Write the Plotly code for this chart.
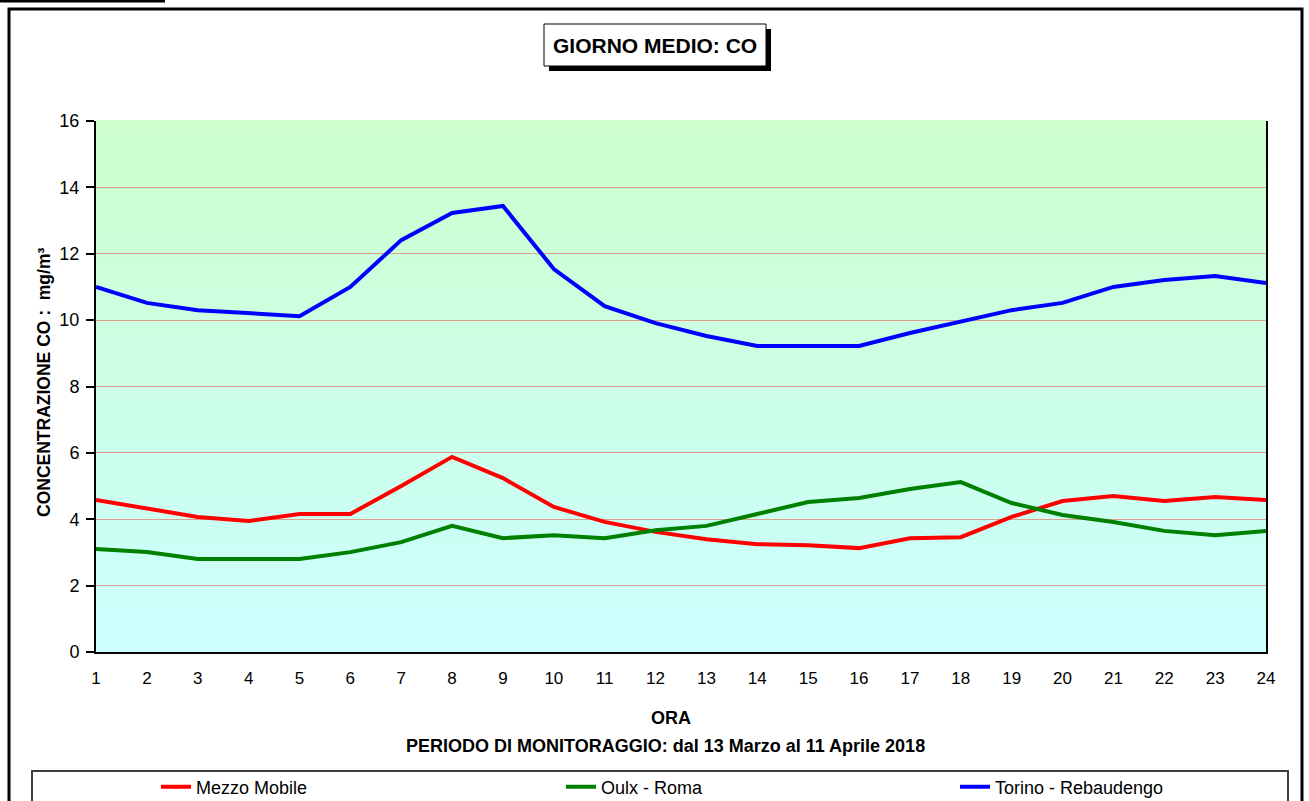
import plotly.graph_objects as go

hours = list(range(1, 25))
mezzo_mobile = [4.58, 4.31, 4.07, 3.95, 4.16, 4.16, 5.00, 5.88, 5.24, 4.37, 3.92, 3.62,
                3.40, 3.25, 3.22, 3.13, 3.43, 3.46, 4.07, 4.55, 4.70, 4.55, 4.67, 4.58]
oulx_roma = [3.10, 3.01, 2.80, 2.80, 2.80, 3.01, 3.31, 3.80, 3.43, 3.52, 3.43, 3.67,
             3.80, 4.16, 4.52, 4.64, 4.91, 5.12, 4.49, 4.13, 3.92, 3.65, 3.52, 3.65]
torino_rebaudengo = [11.00, 10.52, 10.30, 10.20, 10.12, 11.00, 12.41, 13.23, 13.44, 11.54, 10.42, 9.91,
                     9.52, 9.22, 9.22, 9.22, 9.61, 9.94, 10.30, 10.52, 11.00, 11.21, 11.33, 11.12]
series_names = ["Mezzo Mobile", "Oulx - Roma", "Torino - Rebaudengo"]
series_colors = ["#FF0000", "#008000", "#0000FF"]
y_ticks = [0, 2, 4, 6, 8, 10, 12, 14, 16]

W, H = 1309, 801
L, R, T, B = 96, 1266, 121, 652
FONT = "Liberation Sans, Arial"


def px(x):
    return (x - L) / (R - L)


def py(y):
    return (B - y) / (B - T)


fig = go.Figure()
legend_ids = ["legend", "legend2", "legend3"]
for name, vals, col, lg in zip(series_names, [mezzo_mobile, oulx_roma, torino_rebaudengo],
                               series_colors, legend_ids):
    fig.add_trace(go.Scatter(x=hours, y=vals, mode="lines", name=name, legend=lg,
                             line=dict(color=col, width=4)))

shapes = []
# gradient background of the plot area
n = 60
c_top = (204, 255, 204)
c_bot = (204, 255, 255)
for i in range(n):
    f = (i + 0.5) / n
    r = round(c_bot[0] + (c_top[0] - c_bot[0]) * f)
    g = round(c_bot[1] + (c_top[1] - c_bot[1]) * f)
    b = round(c_bot[2] + (c_top[2] - c_bot[2]) * f)
    shapes.append(dict(type="rect", xref="x domain", yref="y domain",
                       x0=0, x1=1, y0=i / n, y1=(i + 1) / n + 0.002,
                       fillcolor=f"rgb({r},{g},{b})", line=dict(width=0), layer="below"))

# outer frame
shapes.append(dict(type="rect", xref="paper", yref="paper",
                   x0=px(9), x1=px(1302), y0=py(830), y1=py(9),
                   line=dict(color="black", width=3), fillcolor="rgba(0,0,0,0)"))
# top cut underline
shapes.append(dict(type="line", xref="paper", yref="paper",
                   x0=px(0), x1=px(165), y0=py(1), y1=py(1),
                   line=dict(color="black", width=3)))
# title box shadow + box
shapes.append(dict(type="rect", xref="paper", yref="paper",
                   x0=px(549), x1=px(771), y0=py(71), y1=py(29),
                   fillcolor="black", line=dict(width=0)))
shapes.append(dict(type="rect", xref="paper", yref="paper",
                   x0=px(544), x1=px(766), y0=py(66), y1=py(24),
                   fillcolor="white", line=dict(color="black", width=1)))
# legend box
shapes.append(dict(type="rect", xref="paper", yref="paper",
                   x0=px(32), x1=px(1288), y0=py(830), y1=py(771),
                   fillcolor="white", line=dict(color="#404040", width=2)))

annotations = [
    dict(text="<b>GIORNO MEDIO: CO</b>", xref="paper", yref="paper",
         x=px(655), y=py(45), showarrow=False, xanchor="center", yanchor="middle",
         font=dict(size=21, color="black", family=FONT)),
    dict(text="<b>ORA</b>", xref="paper", yref="paper",
         x=px(671), y=py(718), showarrow=False, xanchor="center", yanchor="middle",
         font=dict(size=18, color="black", family=FONT)),
    dict(text="<b>PERIODO DI MONITORAGGIO: dal 13 Marzo al 11 Aprile 2018</b>", xref="paper", yref="paper",
         x=px(665), y=py(746), showarrow=False, xanchor="center", yanchor="middle",
         font=dict(size=18, color="black", family=FONT)),
    dict(text="<b>CONCENTRAZIONE CO :  mg/m³</b>", xref="paper", yref="paper",
         x=px(44), y=py(383), showarrow=False, xanchor="center", yanchor="middle", textangle=-90,
         font=dict(size=17.5, color="black", family=FONT)),
]

legend_common = dict(orientation="h", yanchor="middle", xanchor="left", bgcolor="rgba(0,0,0,0)",
                     xref="container", yref="container",
                     borderwidth=0, font=dict(size=18, family=FONT, color="black"))
leg_y = 1 - 787 / H

fig.update_layout(
    width=W, height=H,
    margin=dict(l=L, r=W - R, t=T, b=H - B, pad=0, autoexpand=False),
    paper_bgcolor="white",
    plot_bgcolor="#CCFFE6",
    font=dict(family=FONT, size=18, color="black"),
    shapes=shapes,
    annotations=annotations,
    showlegend=True,
    legend=dict(x=156 / W, y=leg_y, **legend_common),
    legend2=dict(x=561 / W, y=leg_y, **legend_common),
    legend3=dict(x=955 / W, y=leg_y, **legend_common),
    xaxis=dict(range=[1, 24], tickmode="array", tickvals=hours, ticktext=[str(h) for h in hours],
               showgrid=False, showline=True, linecolor="black", linewidth=1.5,
               ticks="", zeroline=False, tickfont=dict(size=17), ticklabelstandoff=10),
    yaxis=dict(range=[0, 16], tickmode="array", tickvals=y_ticks,
               showgrid=True, gridcolor="#DDA08C", gridwidth=1,
               showline=True, linecolor="black", linewidth=2, mirror=True,
               ticks="outside", ticklen=8, tickcolor="black", tickwidth=1.5,
               zeroline=False, tickfont=dict(size=18), ticklabelstandoff=3),
)

fig.write_html("out.html", config={"displayModeBar": False},
               post_script="document.body.style.margin='0';document.body.style.overflow='hidden';")
